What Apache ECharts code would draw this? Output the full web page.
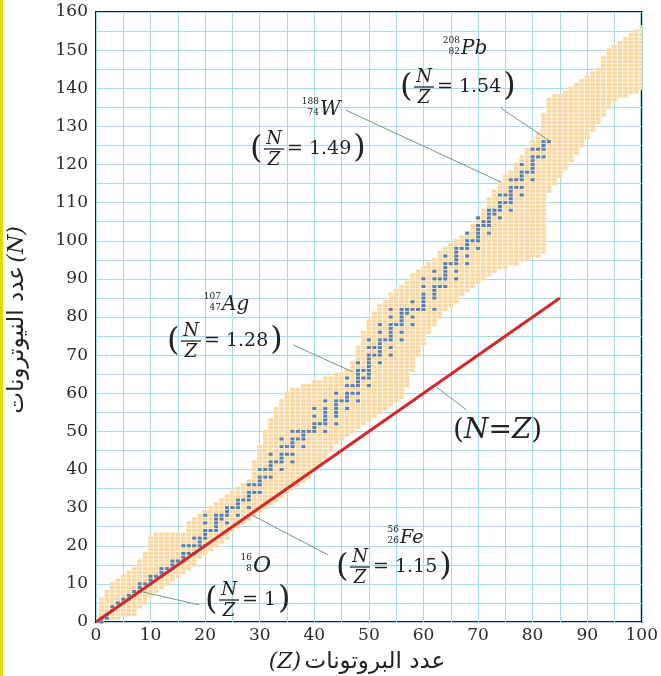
<!DOCTYPE html>
<html><head><meta charset="utf-8">
<script src="https://cdn.jsdelivr.net/npm/echarts@6/dist/echarts.min.js"></script>
<style>html,body{margin:0;padding:0;background:#fff}#c{width:661px;height:676px}</style>
</head><body><div id="c"></div>
<script>
// Band of stability: for Z = 1..100, lowest and highest neutron number N
const bandLow = [0,1,1,1,2,2,2,4,5,7, 8,9,10,11,12,13,14,15,17,18, 19,20,21,22,24,25,26,27,28,29,
  30,31,32,33,34,35,36,37,38,40, 41,43,45,47,48,49,50,51,52,53, 54,55,56,57,58,59,62,66,70,73,
  76,78,80,82,83,84,86,87,88,89, 90,91,92,93,93,94,94,95,95,96, 96,97,113,115,117,119,121,123,125,127,
  129,131,133,135,137,138,138,139,139,140];
const bandHigh = [6,8,10,11,12,13,14,16,18,22, 23,23,23,23,23,23,26,27,28,29, 30,31,32,33,34,35,36,37,42,46,
  50,53,56,58,60,61,61,62,62,63, 63,64,64,65,65,66,68,72,76,79, 81,83,84,86,87,88,89,91,92,93,
  94,95,97,98,99,100,101,102,104,106, 108,111,113,115,117,118,120,122,124,126, 128,133,137,138,138,139,140,141,142,143,
  144,145,148,150,151,152,153,154,155,156];
// Stable nuclides: neutron numbers for Z = 1..83
const stableN = [
  [0,1],[1,2],[3,4],[5],[5,6],[6,7],[7,8],[8,9,10],[10],[10,11,12],
  [12],[12,13,14],[14],[14,15,16],[16],[16,17,18,20],[18,20],[18,20,22],[20,21,22],[20,22,23,24,26,28],
  [24],[24,25,26,27,28],[27,28],[26,28,29,30],[30],[28,30,31,32],[32],[30,32,33,34,36],[34,36],[34,36,37,38,40],
  [38,40],[38,40,41,42,44],[42],[40,42,43,44,46,48],[44,46],[42,44,46,47,48,50],[48,50],[46,48,49,50],[50],[50,51,52,54,56],
  [52],[50,52,53,54,55,56,58],[],[52,54,55,56,57,58,60],[58],[56,58,59,60,62,64],[60,62],[58,60,62,63,64,65,66,68],[64,66],[62,64,65,66,67,68,69,70,72,74],
  [70,72],[68,70,71,72,73,74,76,78],[74],[70,72,74,75,76,77,78,80,82],[78],[74,76,78,79,80,81,82],[81,82],[78,80,82,84],[82],[82,83,84,85,86,88,90],
  [],[82,85,86,87,88,90,92],[88,90],[88,90,91,92,93,94,96],[94],[90,92,94,95,96,97,98],[98],[94,96,98,99,100,102],[100],[98,100,101,102,103,104,106],
  [104,105],[102,104,105,106,107,108],[107,108],[106,108,109,110,112],[110,112],[108,110,111,112,113,114,116],[114,116],[112,114,116,117,118,120],[118],[116,118,119,120,121,122,124],
  [122,124],[122,124,125,126],[126]
];
const nzLine = [[0,0],[85,85]];
const leaderLines = [
  [[18.9,4.5],[8.5,7.9]],
  [[42.5,17.6],[28.5,28.1]],
  [[36.1,72.7],[47.0,65.6]],
  [[45.7,134.3],[74.2,115.4]],
  [[74.2,134.8],[82.9,126.4]],
  [[67.9,55.6],[62.4,61.6]]
];
const xTicks = {min:0, max:100, step:10};
const yTicks = {min:0, max:160, step:10};

const bandData = bandLow.map((lo, i) => [i + 1, lo, bandHigh[i]]);
const stableData = [];
stableN.forEach((ns, i) => ns.forEach(n => stableData.push([i + 1, n])));

const SERIF = 'DejaVu Serif';
const TXT = '#222';
const gridCol = '#a4dbe5';

function isoLabel(xs, ys, A, Zn, sym, fs) {
  return [
    {type:'text', x:xs-1, y:ys-8, z:50, style:{text:String(A), font:'9px "'+SERIF+'"', fill:TXT, align:'right', verticalAlign:'middle'}},
    {type:'text', x:xs-1, y:ys+3, z:50, style:{text:String(Zn), font:'9px "'+SERIF+'"', fill:TXT, align:'right', verticalAlign:'middle'}},
    {type:'text', x:xs, y:ys, z:50, style:{text:sym, font:'italic '+fs+'px "'+SERIF+'"', fill:TXT, align:'left', verticalAlign:'middle'}}
  ];
}
function frac(x0, y0, val) {
  return [
    {type:'text', x:x0, y:y0+1, z:50, style:{text:'(', font:'32px "'+SERIF+'"', fill:TXT, align:'left', verticalAlign:'middle'}},
    {type:'text', x:x0+24, y:y0-10, z:50, style:{text:'N', font:'italic 18px "'+SERIF+'"', fill:TXT, align:'center', verticalAlign:'middle'}},
    {type:'line', z:50, shape:{x1:x0+14, y1:y0, x2:x0+34, y2:y0}, style:{stroke:TXT, lineWidth:1.3}},
    {type:'text', x:x0+24, y:y0+11, z:50, style:{text:'Z', font:'italic 18px "'+SERIF+'"', fill:TXT, align:'center', verticalAlign:'middle'}},
    {type:'text', x:x0+37, y:y0, z:50, style:{text:'{a|= '+val+'}{p|)}', fill:TXT, align:'left', verticalAlign:'middle',
      rich:{a:{font:'19px "'+SERIF+'"', fill:TXT, verticalAlign:'middle'}, p:{font:'32px "'+SERIF+'"', fill:TXT, verticalAlign:'middle', padding:[0,0,0,2]}}}}
  ];
}

const graphics = [
  {type:'rect', shape:{x:0, y:0, width:3, height:676}, style:{fill:'#e3db00'}, z:100},
  ...isoLabel(253, 566, 16, 8, 'O', 22), ...frac(205, 600, '1'),
  ...isoLabel(400, 538, 56, 26, 'Fe', 19), ...frac(336, 567, '1.15'),
  ...isoLabel(222, 305, 107, 47, 'Ag', 20), ...frac(167, 341, '1.28'),
  ...isoLabel(320, 110, 188, 74, 'W', 20), ...frac(250, 149, '1.49'),
  ...isoLabel(461, 49, 208, 82, 'Pb', 20), ...frac(400, 87, '1.54'),
  {type:'text', x:453, y:431, z:50, style:{text:'{p|(}{i|N}{p|=}{i|Z}{p|)}', align:'left', verticalAlign:'middle',
    rich:{p:{font:'28px "'+SERIF+'"', fill:TXT}, i:{font:'italic 28px "'+SERIF+'"', fill:TXT}}}},
  {type:'text', x:357, y:662, z:50, style:{text:'{b|(Z)} {a|عدد البروتونات}', align:'center', verticalAlign:'middle',
    rich:{a:{font:'23px "DejaVu Sans"', fill:TXT}, b:{font:'italic 22px "'+SERIF+'"', fill:TXT}}}},
  {type:'text', x:17, y:320, z:50, rotation:Math.PI/2, style:{text:'{a|عدد النيوترونات} {b|(N)}', align:'center', verticalAlign:'middle',
    rich:{a:{font:'23px "DejaVu Sans"', fill:TXT}, b:{font:'italic 22px "'+SERIF+'"', fill:TXT}}}}
];

const chart = echarts.init(document.getElementById('c'), null, {renderer:'canvas'});
chart.setOption({
  animation:false,
  backgroundColor:'#fff',
  grid:{left:96, right:14, top:12, bottom:54, show:true, borderColor:'#1c1c1c', borderWidth:2},
  xAxis:{type:'value', min:xTicks.min, max:xTicks.max, interval:xTicks.step,
    axisLine:{show:false}, axisTick:{show:false},
    axisLabel:{fontFamily:SERIF, fontSize:17, color:'#2a2a2a', margin:5},
    splitLine:{show:true, lineStyle:{color:gridCol, width:1}},
    minorTick:{show:false, splitNumber:2},
    minorSplitLine:{show:true, lineStyle:{color:gridCol, width:1}}},
  yAxis:{type:'value', min:yTicks.min, max:yTicks.max, interval:yTicks.step,
    axisLine:{show:false}, axisTick:{show:false},
    axisLabel:{fontFamily:SERIF, fontSize:17, color:'#2a2a2a', margin:8},
    splitLine:{show:true, lineStyle:{color:gridCol, width:1}},
    minorTick:{show:false, splitNumber:2},
    minorSplitLine:{show:true, lineStyle:{color:gridCol, width:1}}},
  series:[
    {type:'custom', data:bandData, clip:true, z:2, silent:true,
      renderItem:function(params, api){
        const z = api.value(0), lo = api.value(1), hi = api.value(2);
        const s = api.size([1,1]);
        const top = api.coord([z, hi]), bot = api.coord([z, lo]);
        const children = [{type:'rect', shape:{x:top[0]-s[0]/2, y:top[1]-s[1]/2, width:s[0], height:bot[1]-top[1]+s[1]}, style:{fill:'#fdf1dd'}}];
        for (let n = lo; n <= hi; n++) {
          const p = api.coord([z, n]);
          children.push({type:'rect', shape:{x:p[0]-s[0]/2+0.6, y:p[1]-s[1]/2+0.5, width:s[0]-1.2, height:s[1]-1}, style:{fill:'#f9d69c'}});
        }
        return {type:'group', children:children};
      }},
    {type:'scatter', data:stableData, symbol:'rect', symbolSize:[4,3], itemStyle:{color:'#2c6cb5'}, z:3, silent:true},
    {type:'line', data:nzLine, symbol:'none', lineStyle:{color:'#d3282b', width:3}, z:4, silent:true},
    {type:'lines', coordinateSystem:'cartesian2d', data:leaderLines.map(c => ({coords:c})),
      lineStyle:{color:'#6f9a86', width:1, opacity:1}, z:5, silent:true}
  ],
  graphic:graphics
});
</script></body></html>
